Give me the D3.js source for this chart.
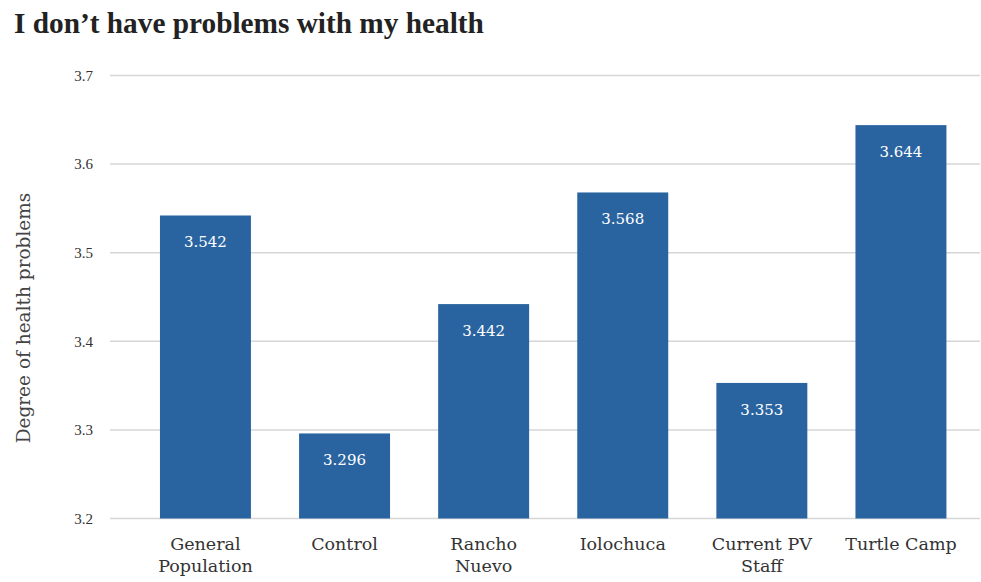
<!DOCTYPE html>
<html><head><meta charset="utf-8">
<script src="https://cdn.jsdelivr.net/npm/d3@7"></script>
<style>body{margin:0;background:#fff;} svg{display:block;}</style>
</head><body>
<svg id="c" width="981" height="582"></svg>
<script>
const categories = [["General","Population"],["Control"],["Rancho","Nuevo"],["Iolochuca"],["Current PV","Staff"],["Turtle Camp"]];
const values = [3.542, 3.296, 3.442, 3.568, 3.353, 3.644];
const valueLabels = ["3.542","3.296","3.442","3.568","3.353","3.644"];
const yTicks = [3.2, 3.3, 3.4, 3.5, 3.6, 3.7];
const title = "I don\u2019t have problems with my health";
const yTitle = "Degree of health problems";

const svg = d3.select("#c");
const serif = "'Liberation Serif','DejaVu Serif',serif";
const wide = "'DejaVu Serif',serif";
const keys = categories.map((c,i)=>i);
const x = d3.scaleBand().domain(keys).range([135.9, 970.5]).paddingInner(0.346).paddingOuter(0.173);
const y = d3.scaleLinear().domain([3.2, 3.7]).range([518.5, 75.5]);

svg.append("text").attr("x", 14).attr("y", 33).attr("font-family", serif)
  .attr("font-weight", "bold").attr("font-size", 29.3).attr("fill", "#222").text(title);

const grid = svg.append("g");
grid.selectAll("line").data(yTicks).join("line")
  .attr("x1", 110).attr("x2", 980).attr("y1", d=>y(d)).attr("y2", d=>y(d))
  .attr("stroke", "#d6d6d6").attr("stroke-width", 1.5);

const yAxis = svg.append("g").attr("transform", "translate(110,0)")
  .call(d3.axisLeft(y).tickValues(yTicks).tickFormat(d3.format(".1f")).tickSize(0).tickPadding(17));
yAxis.select(".domain").remove();
yAxis.selectAll("text").attr("font-family", serif).attr("font-size", 15).attr("fill", "#333");

svg.append("text").attr("transform", "translate(30,318) rotate(-90)").attr("text-anchor", "middle")
  .attr("font-family", wide).attr("font-size", 18.5).attr("fill", "#444").text(yTitle);

svg.append("g").selectAll("rect").data(values).join("rect")
  .attr("x", (d,i)=>x(i)).attr("width", x.bandwidth())
  .attr("y", d=>y(d)).attr("height", d=>y(3.2)-y(d)).attr("fill", "#2a64a0");

svg.append("g").selectAll("text").data(values).join("text")
  .attr("x", (d,i)=>x(i)+x.bandwidth()/2).attr("y", d=>y(d)+32)
  .attr("text-anchor", "middle").attr("font-family", wide).attr("font-size", 15)
  .attr("fill", "#fff").text((d,i)=>valueLabels[i]);

const xl = svg.append("g").selectAll("text").data(categories).join("text")
  .attr("x", (d,i)=>x(i)+x.bandwidth()/2).attr("y", 550)
  .attr("text-anchor", "middle").attr("font-family", wide).attr("font-size", 17.5).attr("fill", "#333");
xl.each(function(d){
  const t = d3.select(this);
  d.forEach((s,j)=>t.append("tspan").attr("x", t.attr("x")).attr("dy", j?22:0).text(s));
});
</script>
</body></html>
